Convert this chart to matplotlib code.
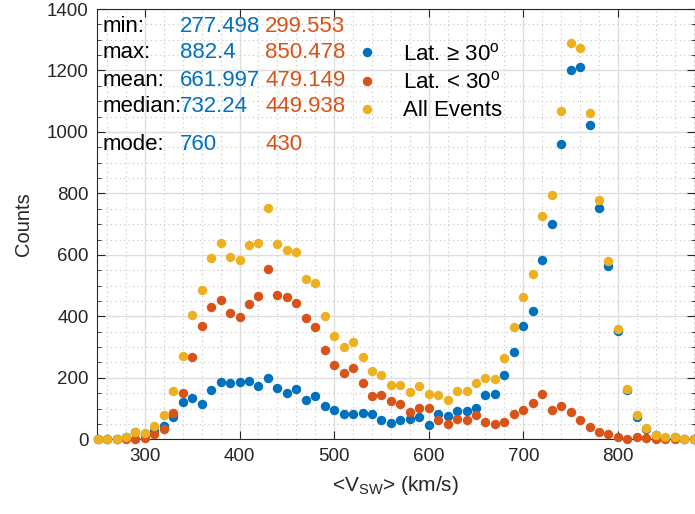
import numpy as np
import matplotlib
matplotlib.use("Agg")
import matplotlib.pyplot as plt
from matplotlib.ticker import MultipleLocator


# solar wind speed bins (km/s)
speed = np.arange(250, 881, 10)

high_lat = [0, 0, 0, 8, 25, 17, 27, 43, 71, 120,
            135, 116, 159, 185, 183, 186, 191, 174, 199, 168,
            151, 164, 127, 141, 109, 94, 83, 82, 85, 81,
            64, 54, 63, 65, 71, 46, 81, 76, 91, 92,
            102, 143, 147, 208, 283, 367, 418, 582, 700, 960,
            1200, 1210, 1023, 754, 563, 351, 162, 73, 35, 13,
            5, 7, 0, 1]

low_lat = [0, 0, 0, 0, 0, 3, 17, 35, 85, 152,
           268, 369, 431, 453, 411, 398, 440, 466, 555, 469,
           464, 445, 396, 366, 291, 242, 217, 233, 184, 141,
           145, 124, 115, 88, 101, 101, 63, 51, 65, 64,
           80, 56, 49, 56, 81, 95, 119, 146, 95, 107,
           89, 62, 39, 24, 18, 8, 1, 7, 3, 1,
           1, 0, 0, 0]

all_events = [0, 0, 0, 8, 25, 20, 44, 78, 156, 272,
              403, 485, 590, 638, 594, 584, 631, 640, 754, 637,
              615, 609, 523, 507, 400, 336, 300, 315, 269, 222,
              209, 178, 178, 153, 172, 147, 144, 127, 156, 156,
              182, 199, 196, 264, 364, 462, 537, 728, 795, 1067,
              1289, 1272, 1062, 778, 581, 359, 163, 80, 38, 14,
              6, 7, 0, 1]

stat_names = ["min:", "max:", "mean:", "median:", "mode:"]
high_stats = ["277.498", "882.4", "661.997", "732.24", "760"]
low_stats = ["299.553", "850.478", "479.149", "449.938", "430"]

BLUE = "#0072BD"
RED = "#D95319"
YELLOW = "#EDB120"
AXIS = "#262626"

plt.rcParams["font.family"] = ["Liberation Sans", "DejaVu Sans"]
plt.rcParams["mathtext.fontset"] = "custom"
plt.rcParams["mathtext.rm"] = "Liberation Sans"
plt.rcParams["mathtext.it"] = "Liberation Sans:italic"
plt.rcParams["mathtext.bf"] = "Liberation Sans:bold"

W, H = 695, 514
fig = plt.figure(figsize=(W / 100, H / 100), dpi=100)
ax = fig.add_axes([97 / W, 1 - 439.3 / H, (694.5 - 97) / W, (439.3 - 9) / H])

ms = 6.8
ax.plot(speed, high_lat, "o", ms=ms, color=BLUE, mec="none", clip_on=False,
        label="Lat. \u2265 30$^\\mathrm{o}$", zorder=3)
ax.plot(speed, low_lat, "o", ms=ms, color=RED, mec="none", clip_on=False,
        label="Lat. < 30$^\\mathrm{o}$", zorder=3)
ax.plot(speed, all_events, "o", ms=ms, color=YELLOW, mec="none", clip_on=False,
        label="All Events", zorder=3)

ax.set_xlim(249.3, 881)
ax.set_ylim(0, 1400)
ax.xaxis.set_major_locator(MultipleLocator(100))
ax.xaxis.set_minor_locator(MultipleLocator(20))
ax.yaxis.set_major_locator(MultipleLocator(200))
ax.yaxis.set_minor_locator(MultipleLocator(50))

ax.grid(which="major", color="#dedede", lw=1.0, zorder=0)
ax.grid(which="minor", color="#c4c4c4", lw=0.8, ls=(0, (1, 3)), zorder=0)
ax.set_axisbelow(True)

ax.tick_params(which="major", direction="in", length=6, width=0.8,
               top=True, right=True, colors=AXIS, labelsize=13.5, pad=6)
ax.tick_params(axis="y", which="minor", direction="in", length=3, width=0.6,
               right=True, colors=AXIS)
ax.tick_params(axis="x", which="minor", length=0)
for s in ax.spines.values():
    s.set_color(AXIS)
    s.set_linewidth(0.8)

ax.set_xlabel("<V$_{\\mathrm{SW}}$> (km/s)", fontsize=15, color=AXIS, labelpad=7)
ax.set_ylabel("Counts", fontsize=14.5, color=AXIS, labelpad=10)

# statistics table
rows_y = [26, 53, 80, 107, 145]
for name, hi, lo, py in zip(stat_names, high_stats, low_stats, rows_y):
    fig.text(103 / W, 1 - py / H, name, fontsize=16, color="black", va="center")
    fig.text(180 / W, 1 - py / H, hi, fontsize=16, color=BLUE, va="center")
    fig.text(265 / W, 1 - py / H, lo, fontsize=16, color=RED, va="center")

ax.legend(loc="upper left", bbox_to_anchor=(354 / W, 1 - 43 / H),
          bbox_transform=fig.transFigure, frameon=False, fontsize=16,
          handlelength=1.2, handletextpad=1.0, labelspacing=0.3,
          borderpad=0, borderaxespad=0)

fig.savefig("out.png", dpi=100)
